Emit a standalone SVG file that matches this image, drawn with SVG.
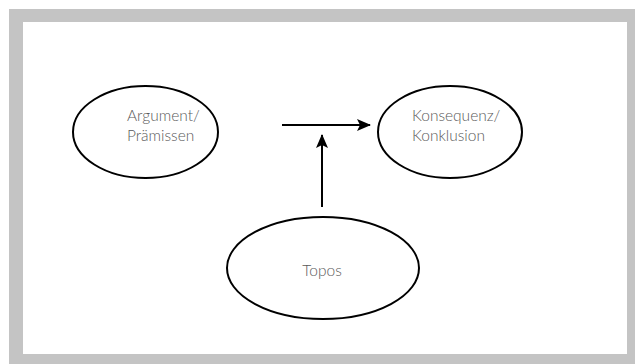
<svg xmlns="http://www.w3.org/2000/svg" width="635" height="364" viewBox="0 0 635 364">
<defs>
<style>
.node ellipse{fill:#fff;stroke:#000;stroke-width:2}
.lbl{font-family:Lato,"Liberation Sans",sans-serif;font-weight:300;font-size:15.5px;fill:#5a5a5a}
.conn line{stroke:#000;stroke-width:2}
</style>
<marker id="ah" markerWidth="14" markerHeight="12" refX="13" refY="6" orient="auto" markerUnits="userSpaceOnUse">
<path d="M0,0 L14,6 L0,12 L3,6 Z" fill="#000"/>
</marker>
</defs>
<rect x="9" y="9" width="626" height="355" fill="#c4c4c4"/>
<rect x="23" y="22" width="604" height="332" fill="#fff"/>
<g id="argument" class="node">
<ellipse cx="145.5" cy="132" rx="72.5" ry="46"/>
<text class="lbl" x="127" y="121">Argument/</text>
<text class="lbl" x="127" y="141">Prämissen</text>
</g>
<g id="konsequenz" class="node">
<ellipse cx="450" cy="132" rx="72" ry="46"/>
<text class="lbl" x="412" y="121">Konsequenz/</text>
<text class="lbl" x="412" y="141">Konklusion</text>
</g>
<g id="topos" class="node">
<ellipse cx="323" cy="268" rx="96" ry="51"/>
<text class="lbl" x="322" y="276" text-anchor="middle">Topos</text>
</g>
<g id="connectors" class="conn">
<line x1="282" y1="125" x2="370" y2="125" marker-end="url(#ah)"/>
<line x1="322" y1="207" x2="322" y2="135" marker-end="url(#ah)"/>
</g>
</svg>
